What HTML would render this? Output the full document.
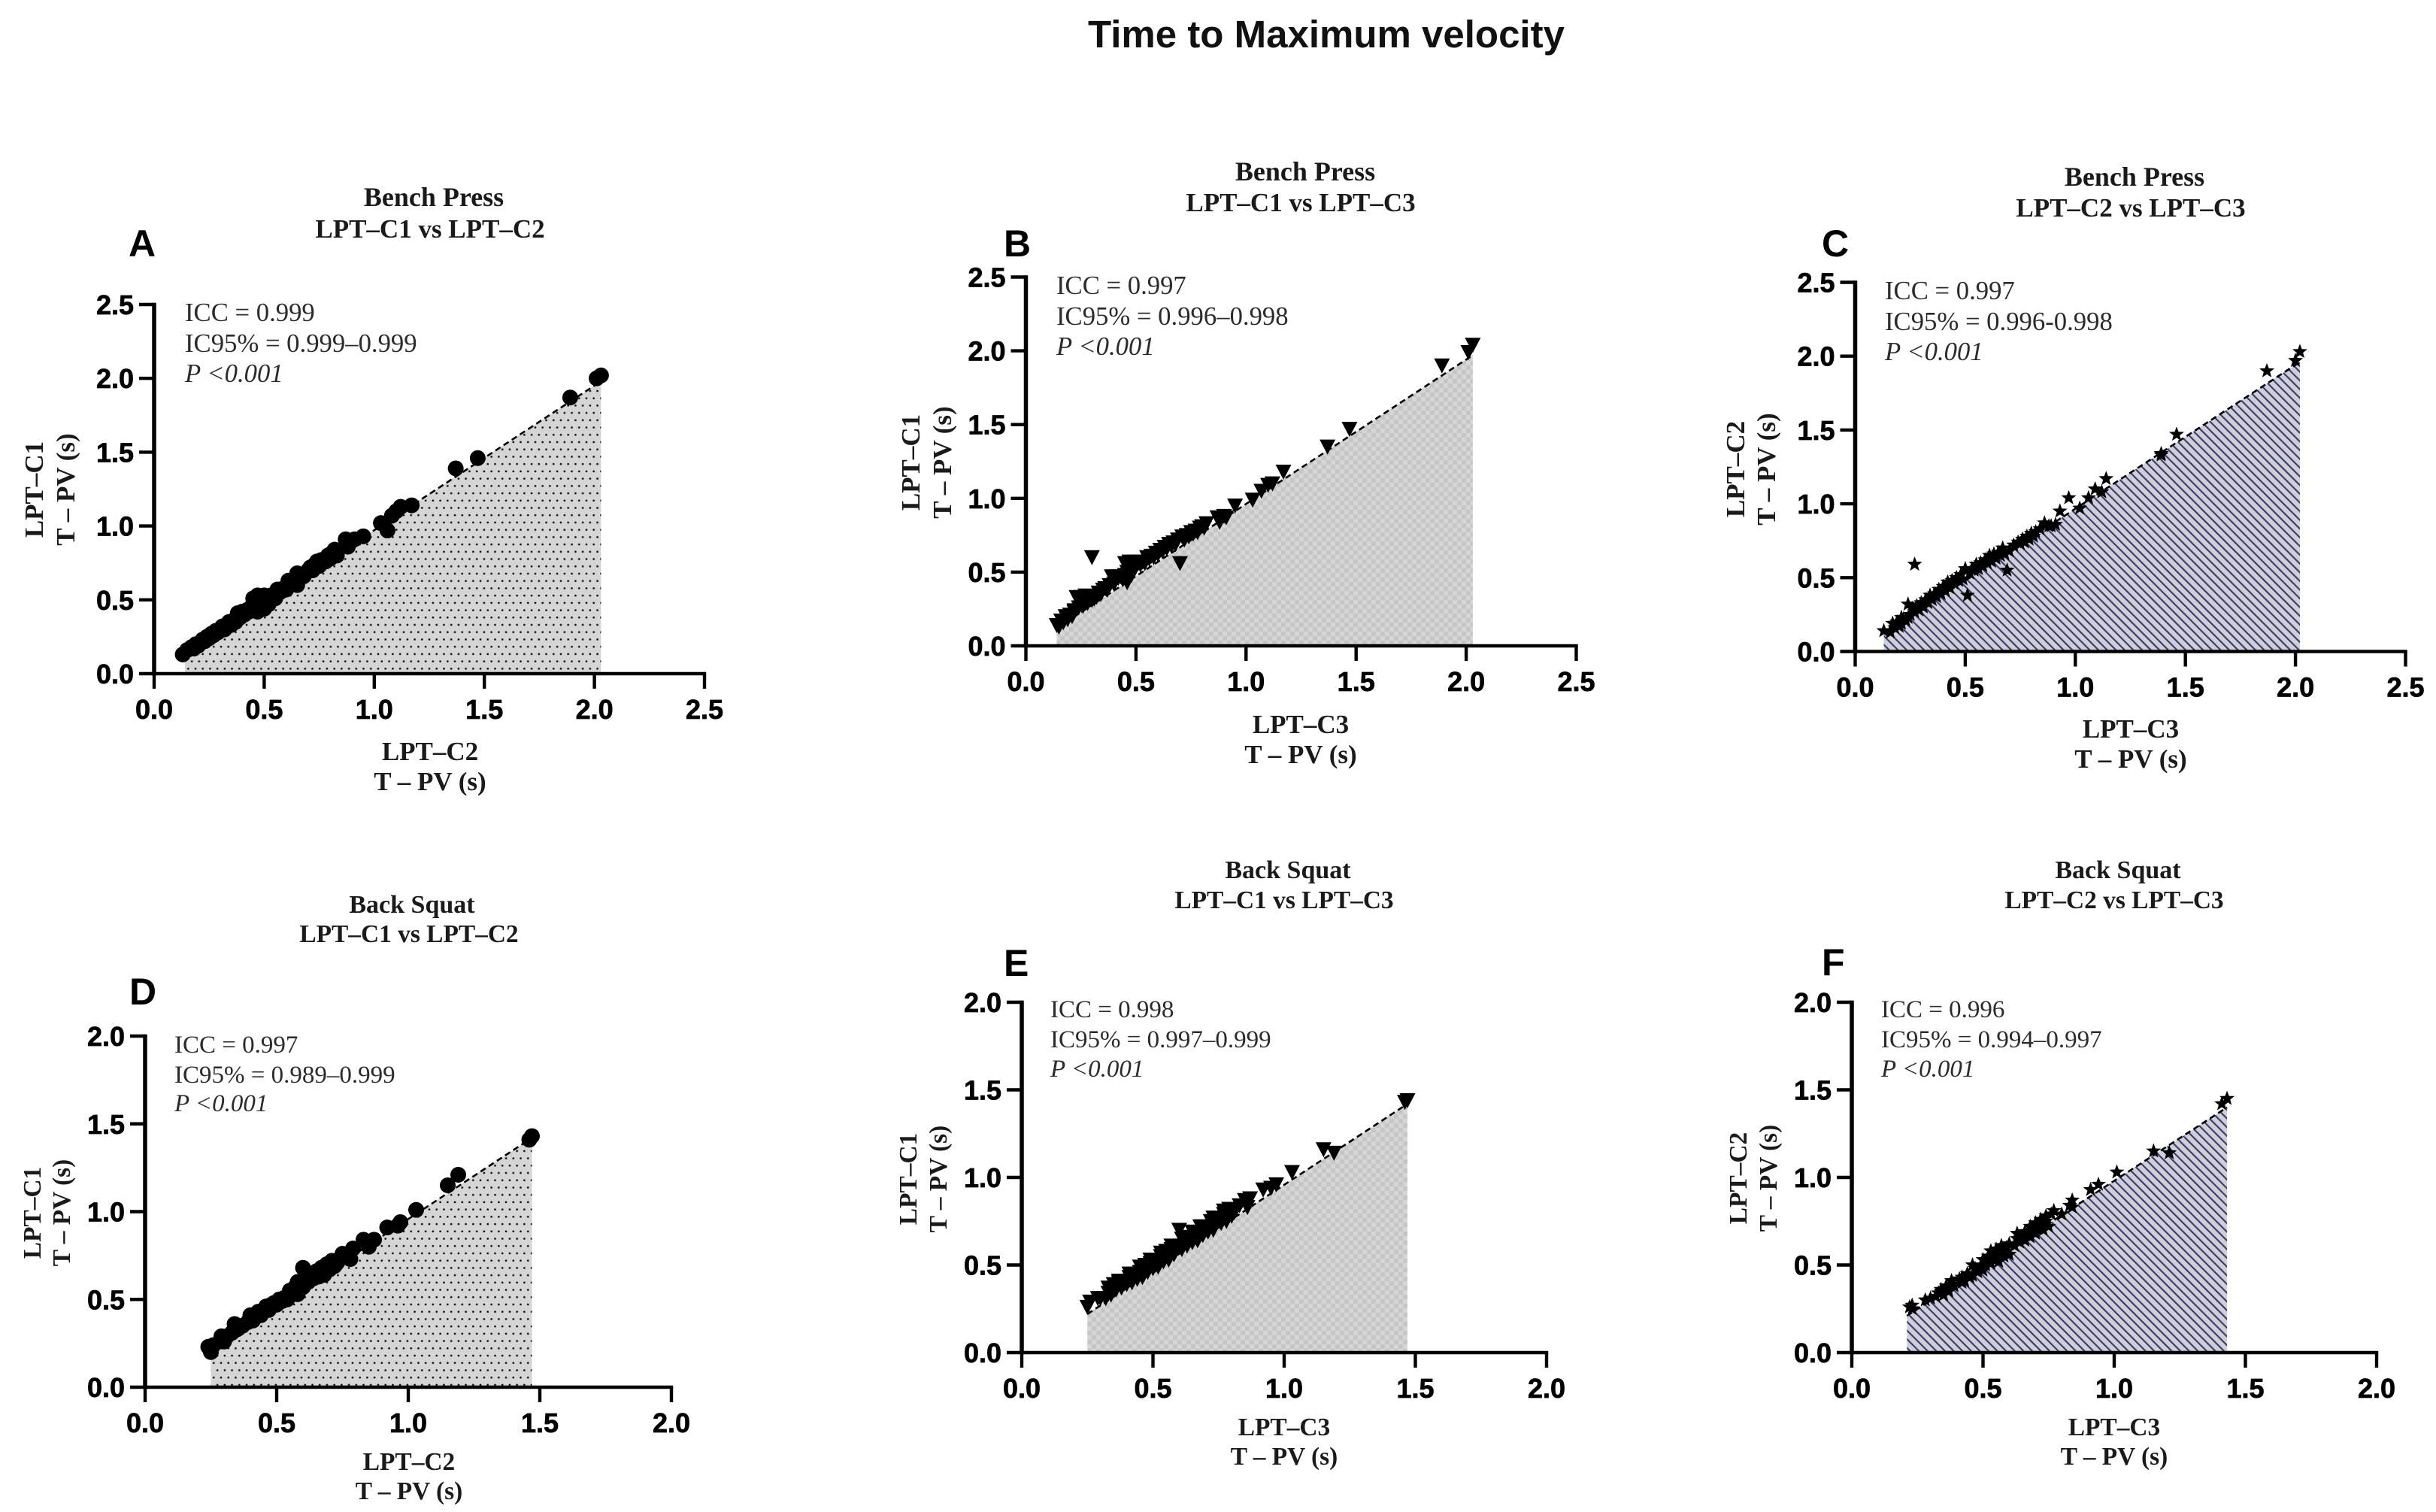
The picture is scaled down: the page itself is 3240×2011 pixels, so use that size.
<!DOCTYPE html>
<html lang="en">
<head>
<meta charset="utf-8">
<title>Time to Maximum velocity</title>
<style>
html,body{margin:0;padding:0;background:#fff;}
svg{display:block;}
.main-title{font:bold 51px "Liberation Sans",Arial,sans-serif;fill:#111;text-anchor:middle;}
.sub{font-weight:bold;font-family:"Liberation Serif","Times New Roman",serif;fill:#1a1a1a;text-anchor:middle;}
#panel-a .sub,#panel-b .sub,#panel-c .sub{font-size:35px;}
#panel-d .sub,#panel-e .sub,#panel-f .sub{font-size:33.4px;}
#panel-a .ex,#panel-b .ex,#panel-c .ex{font-size:36px;}
#panel-d .ex,#panel-e .ex,#panel-f .ex{font-size:34px;}
.letter{font:bold 50px "Liberation Sans",Arial,sans-serif;fill:#000;}
.note,.note-i{font-family:"Liberation Serif","Times New Roman",serif;fill:#2b2b2b;}
.note-i{font-style:italic;}
#panel-a .note,#panel-b .note,#panel-c .note,#panel-a .note-i,#panel-b .note-i,#panel-c .note-i{font-size:34.7px;}
#panel-d .note,#panel-e .note,#panel-f .note,#panel-d .note-i,#panel-e .note-i,#panel-f .note-i{font-size:33px;}
.tick{font:bold 36px "Liberation Sans",Arial,sans-serif;fill:#000;stroke:#000;stroke-width:.7px;}
</style>
</head>
<body>
<svg id="figure" xmlns="http://www.w3.org/2000/svg" width="3240" height="2011" viewBox="0 0 3240 2011">
<defs>
<pattern id="fill-dots" width="9.72" height="19.44" patternUnits="userSpaceOnUse">
<rect width="9.72" height="19.44" fill="#d5d5d5"/>
<circle cx="2.4" cy="4.8" r="1.35" fill="#111"/>
<circle cx="7.26" cy="14.52" r="1.35" fill="#111"/>
</pattern>
<pattern id="fill-check" width="12" height="12" patternUnits="userSpaceOnUse">
<rect width="12" height="12" fill="#d6d6d6"/>
<rect width="6" height="6" fill="#c6c6c6"/>
<rect x="6" y="6" width="6" height="6" fill="#c6c6c6"/>
</pattern>
<pattern id="fill-hatch" width="8.2" height="8.2" patternUnits="userSpaceOnUse" patternTransform="rotate(-45)">
<rect width="8.2" height="8.2" fill="#cfcfd6"/>
<rect x="0" y="0" width="2.1" height="8.2" fill="#3a3870"/>
</pattern>
</defs>
<rect width="3240" height="2011" fill="#fff"/>
<text class="main-title" x="1764" y="63">Time to Maximum velocity</text>

<g id="panel-a">
<text class="sub ex" x="577" y="274">Bench Press</text>
<text class="sub" x="572" y="316">LPT–C1 vs LPT–C2</text>
<text class="letter" x="171" y="341">A</text>
<text class="note" x="246" y="427">ICC = 0.999</text>
<text class="note" x="246" y="468">IC95% = 0.999–0.999</text>
<text class="note-i" x="246" y="508">P &lt;0.001</text>
<text class="sub" x="572" y="1011">LPT–C2</text>
<text class="sub" x="572" y="1051">T – PV (s)</text>
<text class="sub" transform="translate(57,651) rotate(-90)">LPT–C1</text>
<text class="sub" transform="translate(99,651) rotate(-90)">T – PV (s)</text>
</g>

<g id="panel-b">
<text class="sub ex" x="1736" y="240">Bench Press</text>
<text class="sub" x="1730" y="281">LPT–C1 vs LPT–C3</text>
<text class="letter" x="1335" y="341">B</text>
<text class="note" x="1405" y="391">ICC = 0.997</text>
<text class="note" x="1405" y="432">IC95% = 0.996–0.998</text>
<text class="note-i" x="1405" y="472">P &lt;0.001</text>
<text class="sub" x="1730" y="975">LPT–C3</text>
<text class="sub" x="1730" y="1015">T – PV (s)</text>
<text class="sub" transform="translate(1223,615) rotate(-90)">LPT–C1</text>
<text class="sub" transform="translate(1265,615) rotate(-90)">T – PV (s)</text>
</g>

<g id="panel-c">
<text class="sub ex" x="2839" y="247">Bench Press</text>
<text class="sub" x="2834" y="288">LPT–C2 vs LPT–C3</text>
<text class="letter" x="2423" y="341">C</text>
<text class="note" x="2507" y="398">ICC = 0.997</text>
<text class="note" x="2507" y="439">IC95% = 0.996-0.998</text>
<text class="note-i" x="2507" y="479">P &lt;0.001</text>
<text class="sub" x="2834" y="981">LPT–C3</text>
<text class="sub" x="2834" y="1021">T – PV (s)</text>
<text class="sub" transform="translate(2320,624) rotate(-90)">LPT–C2</text>
<text class="sub" transform="translate(2361,624) rotate(-90)">T – PV (s)</text>
</g>

<g id="panel-d">
<text class="sub ex" x="548" y="1214">Back Squat</text>
<text class="sub" x="544" y="1253">LPT–C1 vs LPT–C2</text>
<text class="letter" x="172" y="1336">D</text>
<text class="note" x="232" y="1400">ICC = 0.997</text>
<text class="note" x="232" y="1440">IC95% = 0.989–0.999</text>
<text class="note-i" x="232" y="1478">P &lt;0.001</text>
<text class="sub" x="544" y="1955">LPT–C2</text>
<text class="sub" x="544" y="1994">T – PV (s)</text>
<text class="sub" transform="translate(54,1613) rotate(-90)">LPT–C1</text>
<text class="sub" transform="translate(93,1613) rotate(-90)">T – PV (s)</text>
</g>

<g id="panel-e">
<text class="sub ex" x="1713" y="1168">Back Squat</text>
<text class="sub" x="1708" y="1208">LPT–C1 vs LPT–C3</text>
<text class="letter" x="1335" y="1298">E</text>
<text class="note" x="1397" y="1353">ICC = 0.998</text>
<text class="note" x="1397" y="1393">IC95% = 0.997–0.999</text>
<text class="note-i" x="1397" y="1432">P &lt;0.001</text>
<text class="sub" x="1708" y="1909">LPT–C3</text>
<text class="sub" x="1708" y="1948">T – PV (s)</text>
<text class="sub" transform="translate(1219,1568) rotate(-90)">LPT–C1</text>
<text class="sub" transform="translate(1259,1568) rotate(-90)">T – PV (s)</text>
</g>

<g id="panel-f">
<text class="sub ex" x="2817" y="1168">Back Squat</text>
<text class="sub" x="2812" y="1208">LPT–C2 vs LPT–C3</text>
<text class="letter" x="2423" y="1297">F</text>
<text class="note" x="2502" y="1353">ICC = 0.996</text>
<text class="note" x="2502" y="1393">IC95% = 0.994–0.997</text>
<text class="note-i" x="2502" y="1432">P &lt;0.001</text>
<text class="sub" x="2812" y="1909">LPT–C3</text>
<text class="sub" x="2812" y="1948">T – PV (s)</text>
<text class="sub" transform="translate(2323,1567) rotate(-90)">LPT–C2</text>
<text class="sub" transform="translate(2363,1567) rotate(-90)">T – PV (s)</text>
</g>
</svg>

<script>
// Tick values and labels
const benchTicks = [0, 0.5, 1, 1.5, 2, 2.5];
const benchTickLabels = ['0.0', '0.5', '1.0', '1.5', '2.0', '2.5'];
const squatTicks = [0, 0.5, 1, 1.5, 2];
const squatTickLabels = ['0.0', '0.5', '1.0', '1.5', '2.0'];

// Panel A: Bench Press, LPT-C2 (x) vs LPT-C1 (y)
const aX = [.13,.15,.17,.18,.19,.20,.21,.22,.23,.24,.25,.26,.27,.28,.29,.30,.31,.32,.33,.34,.35,.36,.37,.38,.39,.40,.41,.42,.43,.44,.45,.45,.46,.47,.47,.48,.49,.50,.50,.51,.52,.53,.54,.55,.56,.57,.58,.59,.60,.61,.62,.63,.64,.65,.65,.66,.67,.68,.70,.71,.72,.73,.74,.75,.76,.78,.79,.80,.81,.82,.83,.87,.88,.89,.91,.95,1.03,1.06,1.08,1.10,1.12,1.17,1.37,1.47,1.89,2.01,2.03];
const aY = [.13,.16,.18,.17,.20,.19,.21,.23,.22,.25,.24,.27,.26,.29,.28,.30,.32,.30,.33,.35,.33,.36,.35,.41,.38,.42,.40,.43,.42,.45,.51,.44,.47,.53,.42,.48,.46,.53,.44,.50,.47,.53,.52,.51,.57,.55,.56,.58,.57,.63,.60,.62,.64,.68,.60,.65,.67,.66,.70,.72,.70,.74,.76,.73,.77,.76,.80,.78,.82,.84,.80,.91,.86,.89,.91,.93,1.02,.97,1.07,1.10,1.13,1.14,1.39,1.46,1.87,2.00,2.02];
const aFitX = [0.14, 2.03];
const aFitY = [0.13, 1.98];

// Panel B: Bench Press, LPT-C3 (x) vs LPT-C1 (y)
const bX = [.14,.15,.16,.17,.18,.19,.20,.21,.22,.22,.23,.24,.25,.26,.27,.28,.29,.30,.30,.31,.32,.33,.34,.35,.36,.37,.38,.39,.40,.41,.42,.43,.44,.45,.45,.46,.46,.47,.47,.48,.48,.49,.49,.50,.51,.52,.53,.54,.55,.56,.57,.58,.59,.60,.61,.62,.63,.64,.65,.66,.67,.68,.69,.70,.71,.72,.73,.74,.75,.76,.77,.78,.79,.80,.81,.82,.87,.88,.90,.91,.95,1.03,1.07,1.10,1.12,1.17,1.37,1.47,1.89,2.01,2.03];
const bY = [.14,.13,.17,.16,.20,.18,.21,.20,.24,.23,.33,.26,.33,.27,.34,.29,.33,.60,.31,.32,.33,.36,.35,.38,.39,.38,.41,.47,.42,.47,.46,.47,.45,.48,.56,.50,.43,.57,.52,.56,.48,.57,.51,.54,.56,.55,.57,.56,.60,.59,.61,.60,.63,.62,.65,.64,.67,.66,.69,.68,.70,.69,.72,.56,.74,.72,.75,.74,.77,.76,.78,.77,.80,.81,.80,.83,.87,.84,.88,.87,.95,.99,1.05,1.09,1.10,1.18,1.35,1.47,1.90,1.99,2.04];
const bFitX = [0.14, 2.03];
const bFitY = [0.12, 1.97];

// Panel C: Bench Press, LPT-C3 (x) vs LPT-C2 (y)
const cX = [.13,.16,.17,.18,.19,.20,.21,.21,.22,.23,.24,.24,.25,.26,.27,.27,.28,.29,.30,.31,.32,.33,.34,.35,.36,.37,.38,.39,.40,.41,.42,.43,.44,.45,.46,.47,.48,.49,.50,.51,.52,.53,.54,.55,.56,.57,.58,.59,.60,.61,.62,.63,.64,.65,.66,.67,.68,.69,.70,.72,.74,.75,.76,.77,.78,.79,.80,.81,.82,.84,.86,.88,.89,.91,.93,.97,1.02,1.06,1.09,1.12,1.14,1.39,1.39,1.46,1.87,2.00,2.02];
const cY = [.14,.13,.19,.16,.20,.17,.23,.19,.22,.21,.32,.23,.25,.29,.27,.59,.31,.28,.33,.30,.35,.33,.38,.35,.39,.37,.42,.39,.44,.41,.47,.43,.48,.46,.50,.48,.52,.49,.56,.38,.53,.56,.55,.59,.56,.60,.58,.62,.60,.65,.61,.66,.63,.67,.65,.70,.66,.55,.68,.72,.74,.73,.76,.74,.78,.76,.80,.78,.81,.83,.87,.85,.85,.86,.95,1.04,.97,1.04,1.10,1.08,1.17,1.34,1.33,1.47,1.90,1.97,2.03];
const cFitX = [0.13, 2.02];
const cFitY = [0.12, 1.96];

// Panel D: Back Squat, LPT-C2 (x) vs LPT-C1 (y)
const dX = [.24,.25,.26,.29,.30,.31,.33,.34,.35,.37,.39,.40,.41,.43,.44,.45,.46,.47,.48,.49,.50,.51,.52,.53,.54,.55,.55,.56,.57,.58,.58,.59,.60,.60,.61,.62,.63,.64,.65,.66,.67,.68,.69,.70,.71,.72,.73,.74,.75,.77,.78,.79,.83,.85,.87,.92,.96,.97,1.03,1.15,1.19,1.46,1.47];
const dY = [.23,.20,.24,.29,.26,.29,.31,.36,.33,.35,.37,.41,.38,.43,.41,.44,.46,.44,.47,.48,.47,.50,.49,.51,.50,.55,.52,.53,.57,.53,.60,.58,.68,.57,.63,.60,.64,.62,.66,.63,.68,.64,.70,.67,.72,.69,.71,.73,.76,.75,.73,.79,.84,.80,.84,.91,.92,.94,1.01,1.15,1.21,1.41,1.43];
const dFitX = [0.25, 1.47];
const dFitY = [0.22, 1.42];

// Panel E: Back Squat, LPT-C3 (x) vs LPT-C1 (y)
const eX = [.25,.26,.29,.30,.32,.33,.34,.35,.36,.37,.38,.39,.40,.41,.42,.43,.44,.45,.46,.47,.48,.49,.50,.51,.52,.53,.54,.55,.56,.57,.58,.59,.60,.60,.61,.62,.63,.64,.65,.66,.67,.68,.69,.70,.71,.72,.73,.74,.75,.76,.77,.78,.79,.80,.81,.83,.85,.86,.87,.92,.95,.97,1.03,1.15,1.19,1.46,1.47,.33,.37,.41,.45,.49,.53,.57,.61,.65,.69,.73,.77];
const eY = [.26,.29,.31,.31,.31,.34,.33,.39,.36,.40,.37,.41,.39,.43,.40,.45,.42,.46,.43,.50,.46,.51,.48,.50,.49,.55,.52,.58,.53,.59,.56,.60,.61,.70,.59,.64,.61,.66,.63,.67,.64,.72,.67,.71,.69,.75,.70,.73,.77,.74,.79,.75,.82,.78,.80,.84,.87,.83,.88,.93,.94,.96,1.03,1.16,1.14,1.43,1.44,.37,.41,.45,.49,.53,.57,.61,.65,.69,.72,.77,.81];
const eFitX = [0.25, 1.47];
const eFitY = [0.22, 1.42];

// Panel F: Back Squat, LPT-C3 (x) vs LPT-C2 (y)
const fX = [.22,.23,.23,.28,.30,.32,.33,.34,.35,.36,.37,.38,.39,.41,.42,.43,.44,.45,.46,.47,.48,.49,.50,.51,.52,.53,.53,.54,.55,.56,.57,.58,.59,.60,.62,.63,.64,.65,.66,.67,.68,.69,.70,.71,.72,.73,.74,.75,.76,.77,.80,.83,.84,.84,.91,.94,1.01,1.15,1.21,1.41,1.43,.34,.38,.42,.46,.50,.52,.55,.57,.60,.63,.66,.68,.70,.72,.74];
const fY = [.26,.25,.27,.30,.31,.32,.34,.35,.33,.38,.35,.39,.38,.42,.40,.41,.45,.43,.44,.48,.46,.49,.47,.50,.52,.51,.58,.53,.55,.52,.58,.55,.60,.56,.61,.65,.63,.66,.64,.68,.66,.70,.68,.71,.73,.70,.75,.72,.79,.81,.79,.84,.87,.83,.93,.96,1.03,1.15,1.14,1.42,1.45,.36,.41,.43,.50,.53,.55,.59,.61,.62,.68,.69,.72,.74,.76,.78];
const fFitX = [0.21, 1.43];
const fFitY = [0.21, 1.40];

const SVG_NS = 'http://www.w3.org/2000/svg';

function make(tag, attrs) {
  const node = document.createElementNS(SVG_NS, tag);
  for (const key in attrs) node.setAttribute(key, attrs[key]);
  return node;
}

function trianglePath(cx, cy) {
  return 'M' + (cx - 10.5) + ' ' + (cy - 9.5) + 'L' + (cx + 10.5) + ' ' + (cy - 9.5) + 'L' + cx + ' ' + (cy + 10.5) + 'Z';
}

function starPath(cx, cy) {
  let d = '';
  for (let i = 0; i < 10; i++) {
    const radius = i % 2 === 0 ? 10.5 : 4.4;
    const angle = -Math.PI / 2 + i * Math.PI / 5;
    d += (i === 0 ? 'M' : 'L') + (cx + radius * Math.cos(angle)).toFixed(2) + ' ' + (cy + radius * Math.sin(angle)).toFixed(2);
  }
  return d + 'Z';
}

function drawPanel(cfg) {
  const root = document.getElementById('panel-' + cfg.id);
  const lastTick = cfg.ticks[cfg.ticks.length - 1];
  const sx = function (v) { return cfg.left + (cfg.right - cfg.left) * v / lastTick; };
  const sy = function (v) { return cfg.bottom - (cfg.bottom - cfg.top) * v / lastTick; };

  const area = make('polygon', {
    points: sx(cfg.fitX[0]) + ',' + sy(0) + ' ' + sx(cfg.fitX[0]) + ',' + sy(cfg.fitY[0]) + ' ' +
            sx(cfg.fitX[1]) + ',' + sy(cfg.fitY[1]) + ' ' + sx(cfg.fitX[1]) + ',' + sy(0),
    fill: 'url(#' + cfg.pattern + ')'
  });
  
  
  root.appendChild(area);

  const fit = make('line', {
    x1: sx(cfg.fitX[0]), y1: sy(cfg.fitY[0]), x2: sx(cfg.fitX[1]), y2: sy(cfg.fitY[1]),
    stroke: '#000', 'stroke-width': 2.6, 'stroke-dasharray': '8 5'
  });
  
  
  root.appendChild(fit);

  const yAxis = make('line', { x1: cfg.left, y1: cfg.top - 2.2, x2: cfg.left, y2: cfg.bottom + 2.2, stroke: '#000', 'stroke-width': 5.5 });
  
  
  root.appendChild(yAxis);

  const xAxis = make('line', { x1: cfg.left - 2.7, y1: cfg.bottom, x2: cfg.right + 2.2, y2: cfg.bottom, stroke: '#000', 'stroke-width': 4.6 });
  
  
  root.appendChild(xAxis);

  cfg.ticks.forEach(function (value, i) {
    const yTick = make('line', { x1: cfg.left - 20, y1: sy(value), x2: cfg.left, y2: sy(value), stroke: '#000', 'stroke-width': 4.4 });
    
    
    root.appendChild(yTick);

    const xTick = make('line', { x1: sx(value), y1: cfg.bottom, x2: sx(value), y2: cfg.bottom + 20, stroke: '#000', 'stroke-width': 4.4 });
    
    
    root.appendChild(xTick);

    const yLabel = make('text', { 'class': 'tick', x: cfg.left - 27, y: sy(value) + 13, 'text-anchor': 'end' });
    
    
    yLabel.textContent = cfg.labels[i];
    root.appendChild(yLabel);

    const xLabel = make('text', { 'class': 'tick', x: sx(value), y: cfg.bottom + 60, 'text-anchor': 'middle' });
    
    
    xLabel.textContent = cfg.labels[i];
    root.appendChild(xLabel);
  });

  cfg.xs.forEach(function (xValue, i) {
    const cx = sx(xValue);
    const cy = sy(cfg.ys[i]);
    let mark;
    if (cfg.marker === 'circle') {
      mark = make('circle', { cx: cx, cy: cy, r: 10.5, fill: '#000' });
    } else if (cfg.marker === 'triangle') {
      mark = make('path', { d: trianglePath(cx, cy), fill: '#000' });
    } else {
      mark = make('path', { d: starPath(cx, cy), fill: '#000' });
    }
    
    
    root.appendChild(mark);
  });
}

drawPanel({ id: 'a', left: 205, right: 937, top: 405, bottom: 896, ticks: benchTicks, labels: benchTickLabels, xs: aX, ys: aY, fitX: aFitX, fitY: aFitY, marker: 'circle', pattern: 'fill-dots' });
drawPanel({ id: 'b', left: 1364.5, right: 2096.5, top: 368.5, bottom: 859, ticks: benchTicks, labels: benchTickLabels, xs: bX, ys: bY, fitX: bFitX, fitY: bFitY, marker: 'triangle', pattern: 'fill-check' });
drawPanel({ id: 'c', left: 2467.5, right: 3199.5, top: 375.5, bottom: 866.5, ticks: benchTicks, labels: benchTickLabels, xs: cX, ys: cY, fitX: cFitX, fitY: cFitY, marker: 'star', pattern: 'fill-hatch' });
drawPanel({ id: 'd', left: 193, right: 893, top: 1378, bottom: 1845, ticks: squatTicks, labels: squatTickLabels, xs: dX, ys: dY, fitX: dFitX, fitY: dFitY, marker: 'circle', pattern: 'fill-dots' });
drawPanel({ id: 'e', left: 1359, right: 2057, top: 1333, bottom: 1799, ticks: squatTicks, labels: squatTickLabels, xs: eX, ys: eY, fitX: eFitX, fitY: eFitY, marker: 'triangle', pattern: 'fill-check' });
drawPanel({ id: 'f', left: 2463, right: 3161, top: 1333, bottom: 1799, ticks: squatTicks, labels: squatTickLabels, xs: fX, ys: fY, fitX: fFitX, fitY: fFitY, marker: 'star', pattern: 'fill-hatch' });
</script>
</body>
</html>
